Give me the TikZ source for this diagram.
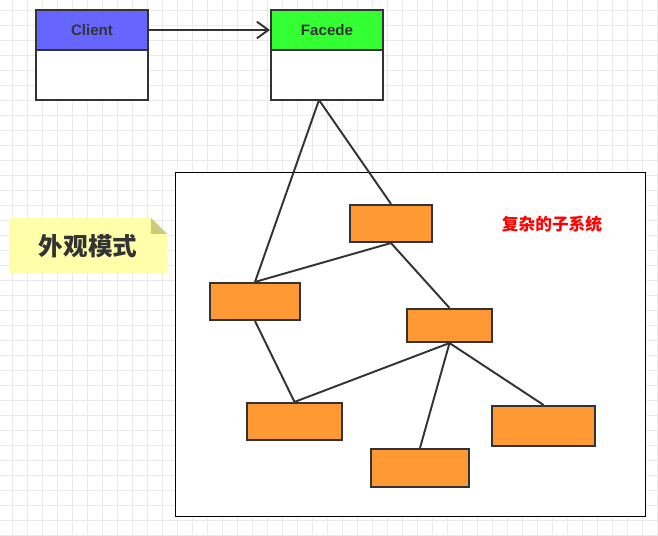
\documentclass[tikz,border=0pt]{standalone}
\usepackage{fontspec}
\setmainfont{Liberation Sans}
\newfontfamily\cjk{Noto Sans CJK SC}
\usetikzlibrary{arrows.meta}
\definecolor{inkgray}{HTML}{333333}
\definecolor{gridgray}{HTML}{EAEAEA}
\definecolor{clientblue}{HTML}{6666FF}
\definecolor{facadegreen}{HTML}{33FF33}
\definecolor{suborange}{HTML}{FF9933}
\definecolor{notebg}{HTML}{FFFFAA}
\definecolor{notefold}{HTML}{CCCC77}
\tikzset{
  head/.style={draw=inkgray, line width=1.2pt, minimum width=2.24cm, minimum height=0.8cm,
    inner sep=0pt, font=\fontsize{8.6}{9}\selectfont\bfseries, text=inkgray},
  body/.style={draw=inkgray, line width=1.2pt, fill=white, minimum width=2.24cm,
    minimum height=1cm, inner sep=0pt},
  sub/.style={draw=inkgray, line width=1.2pt, fill=suborange, inner sep=0pt},
  link/.style={draw=inkgray, line width=1.1pt}
}
\begin{document}
\begin{tikzpicture}[x=0.02cm, y=-0.02cm]
  \useasboundingbox (0,0) rectangle (658,536);
  \fill[white] (0,0) rectangle (658,536);

      % grid
      \foreach \gx in {12,27,...,657}
        \draw[gridgray, line width=0.5pt] (\gx,0) -- (\gx,536);
      \foreach \gy in {10,25,...,535}
        \draw[gridgray, line width=0.5pt] (0,\gy) -- (658,\gy);

      % subsystem frame
      \draw[fill=white, line width=0.5pt] (175,172) rectangle (645,516);
      \node[text=red, font=\cjk\fontsize{9.5}{10}\selectfont\bfseries] (subtitle) at (552,224) {复杂的子系统};

      % note
      \fill[notebg] (9,218) -- (151,218) -- (167,234) -- (167,273) -- (9,273) -- cycle;
      \fill[notefold] (151,218) -- (167,234) -- (151,234) -- cycle;
      \node[text=inkgray, font=\cjk\fontsize{14}{15}\selectfont\bfseries] (note) at (88,246) {外观模式};

      % client and facade
      \node[head, fill=clientblue] (cliHead) at (92,30) {Client};
      \node[body] (cliBody) at (92,75) {};
      \node[head, fill=facadegreen] (facHead) at (327,30) {Facede};
      \node[body] (facBody) at (327,75) {};
      \draw[link, -{Straight Barb[length=6.5pt, width=9.5pt]}] (cliHead.east) -- (facHead.west);

      % subsystem classes
      \node[sub, minimum width=1.64cm, minimum height=0.74cm] (subA) at (391,223.5) {};
      \node[sub, minimum width=1.8cm, minimum height=0.74cm] (subB) at (255,301.5) {};
      \node[sub, minimum width=1.7cm, minimum height=0.66cm] (subC) at (449.5,325.5) {};
      \node[sub, minimum width=1.9cm, minimum height=0.74cm] (subD) at (294.5,421.5) {};
      \node[sub, minimum width=1.96cm, minimum height=0.76cm] (subE) at (420,468) {};
      \node[sub, minimum width=2.06cm, minimum height=0.8cm] (subF) at (543.5,426) {};

      \coordinate (hub) at (319,100);
      \draw[link] (hub) -- (subB.north);
      \draw[link] (hub) -- (subA.north);
      \draw[link] (subA.south) -- (subB.north);
      \draw[link] (subA.south) -- (subC.north);
      \draw[link] (subB.south) -- (subD.north);
      \draw[link] (subC.south) -- (subD.north);
      \draw[link] (subC.south) -- (subE.north);
      \draw[link] (subC.south) -- (subF.north);

\end{tikzpicture}
\end{document}
